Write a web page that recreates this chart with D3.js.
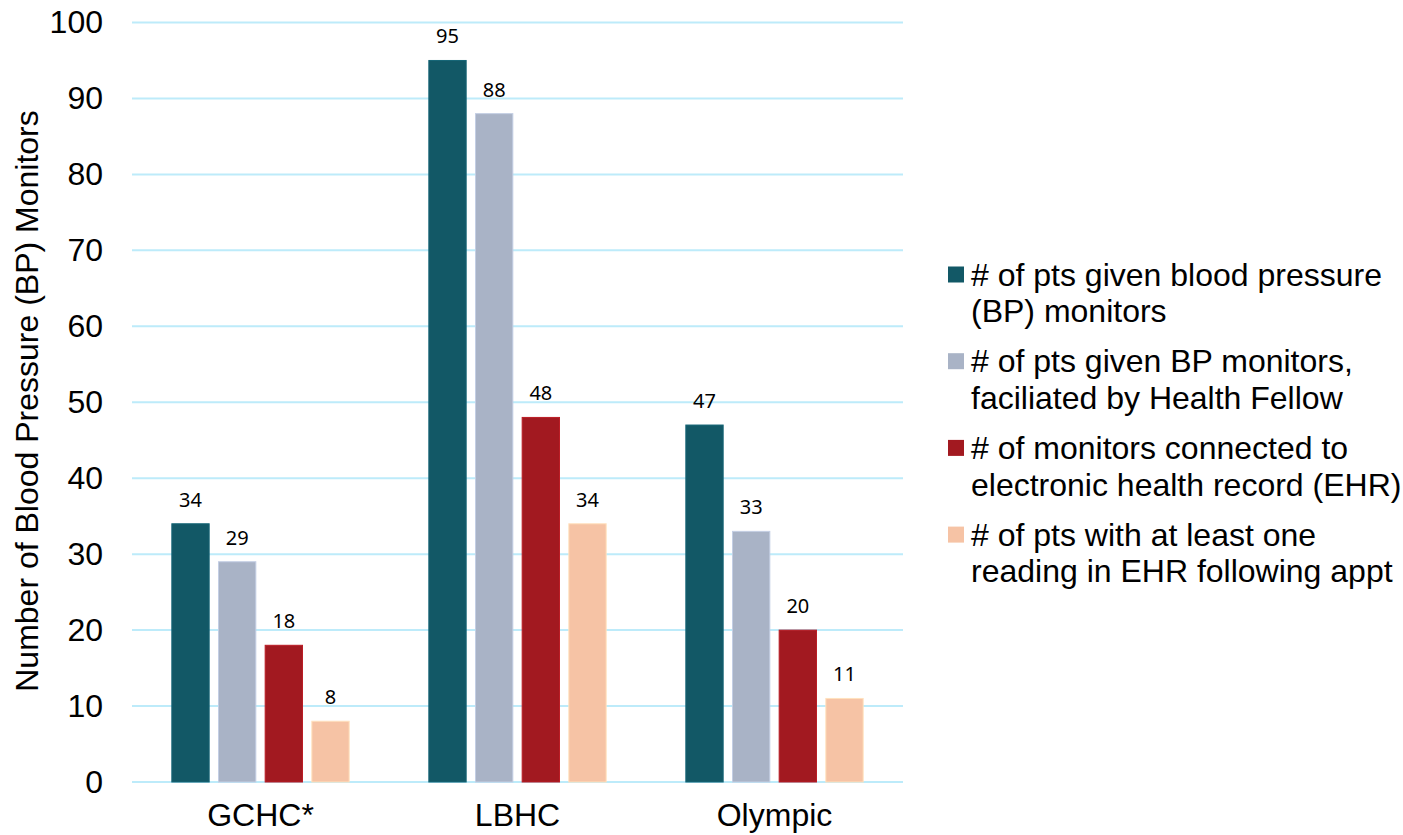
<!DOCTYPE html>
<html><head><meta charset="utf-8">
<script src="https://cdn.jsdelivr.net/npm/d3@7"></script>
<style>body{margin:0;background:#fff;} svg{display:block;}</style>
</head><body>
<svg id="chart" width="1403" height="835"></svg>
<script>
const categories = ["GCHC*", "LBHC", "Olympic"];
const seriesNames = [
  ["# of pts given blood pressure", "(BP) monitors"],
  ["# of pts given BP monitors,", "faciliated by Health Fellow"],
  ["# of monitors connected to", "electronic health record (EHR)"],
  ["# of pts with at least one", "reading in EHR following appt"]
];
const seriesColors = ["#125866", "#A9B3C6", "#A21920", "#F6C3A5"];
const givenBP = [34, 95, 47];
const byFellow = [29, 88, 33];
const connectedEHR = [18, 48, 20];
const readingEHR = [8, 34, 11];
const yTicks = [0, 10, 20, 30, 40, 50, 60, 70, 80, 90, 100];
const yTitle = "Number of Blood Pressure (BP) Monitors";

const series = [givenBP, byFellow, connectedEHR, readingEHR];
const svg = d3.select("#chart");
const mLeft = 132, mRight = 903, mTop = 22.5, mBottom = 782;
const FONT = "Liberation Sans, Arial, sans-serif";

const x0 = d3.scaleBand().domain(categories).range([mLeft, mRight]).paddingInner(0.31).paddingOuter(0.155);
const x1 = d3.scaleBand().domain(d3.range(series.length)).range([0, x0.bandwidth()]).paddingInner(0.2).paddingOuter(0);
const y = d3.scaleLinear().domain([0, 100]).range([mBottom, mTop]);

// gridlines
svg.append("g").selectAll("line").data(yTicks).join("line")
  .attr("x1", mLeft).attr("x2", mRight)
  .attr("y1", d => y(d)).attr("y2", d => y(d))
  .attr("stroke", "#BDEBFA").attr("stroke-width", 2);

// y axis labels
const yAxis = d3.axisLeft(y).tickValues(yTicks).tickSize(0).tickPadding(0);
const ya = svg.append("g").attr("transform", `translate(${mLeft - 29},0)`).call(yAxis);
ya.select(".domain").remove();
ya.selectAll("text").attr("font-family", FONT).attr("font-size", 32).attr("fill", "#000");

// x axis labels
const xAxis = d3.axisBottom(x0).tickSize(0).tickPadding(0);
const xa = svg.append("g").attr("transform", `translate(0,${mBottom + 21})`).call(xAxis);
xa.select(".domain").remove();
xa.selectAll("text").attr("font-family", FONT).attr("font-size", 32).attr("fill", "#000");

// bars
const groups = svg.append("g").selectAll("g").data(categories).join("g")
  .attr("transform", d => `translate(${x0(d)},0)`);
groups.each(function(cat, ci) {
  const g = d3.select(this);
  const vals = series.map((s, si) => ({si, v: s[ci]}));
  g.selectAll("rect").data(vals).join("rect")
    .attr("x", d => x1(d.si)).attr("width", x1.bandwidth())
    .attr("y", d => y(d.v)).attr("height", d => y(0) - y(d.v))
    .attr("fill", d => seriesColors[d.si])
    .attr("stroke", d => d3.color(seriesColors[d.si]).brighter(0.4))
    .attr("stroke-width", 1);
  g.selectAll("text").data(vals).join("text")
    .attr("x", d => x1(d.si) + x1.bandwidth() / 2)
    .attr("y", d => y(d.v) - 17)
    .attr("text-anchor", "middle")
    .attr("font-family", "Noto Sans, Open Sans, sans-serif")
    .attr("font-size", 20).attr("fill", "#000")
    .text(d => d.v);
});

// y title
svg.append("text")
  .attr("transform", `translate(38,401) rotate(-90)`)
  .attr("text-anchor", "middle")
  .attr("font-family", FONT)
  .attr("font-size", 32).attr("fill", "#000")
  .text(yTitle);

// legend
const leg = svg.append("g").attr("transform", "translate(948,266.5)");
const entries = leg.selectAll("g").data(seriesNames).join("g")
  .attr("transform", (d, i) => `translate(0,${i * 86.7})`);
entries.append("rect").attr("width", 16).attr("height", 16)
  .attr("fill", (d, i) => seriesColors[i]);
entries.each(function(lines) {
  const t = d3.select(this).append("text")
    .attr("font-family", FONT)
    .attr("font-size", 32).attr("fill", "#000");
  lines.forEach((ln, li) => {
    t.append("tspan").attr("x", 23).attr("y", 19 + li * 36.7).text(ln);
  });
});
</script>
</body></html>
